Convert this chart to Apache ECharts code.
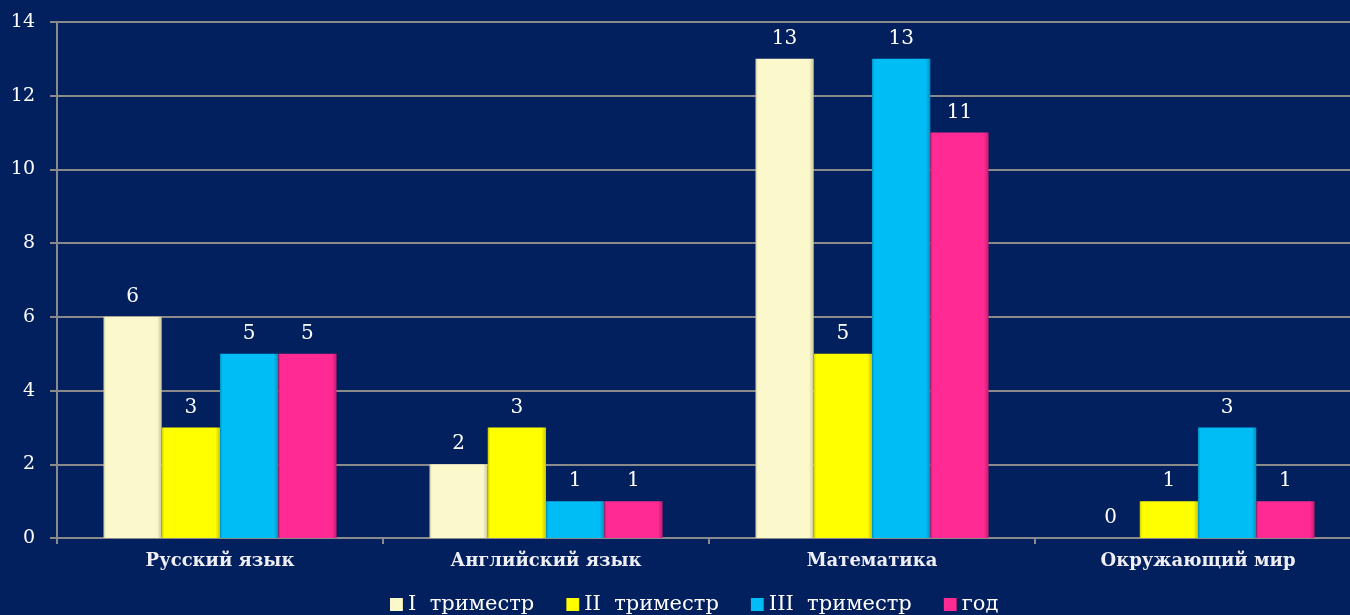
<!DOCTYPE html>
<html><head><meta charset="utf-8">
<script src="https://cdn.jsdelivr.net/npm/echarts@6/dist/echarts.min.js"></script>
<style>html,body{margin:0;padding:0;background:#03205e;overflow:hidden;}#c{width:1361px;height:615px;}</style>
</head><body><div id="c"></div>
<script>
const categories = ['Русский язык', 'Английский язык', 'Математика', 'Окружающий мир'];
const seriesNames = ['I  триместр', 'II  триместр', 'III  триместр', 'год'];
const trim1 = [6, 2, 13, 0];
const trim2 = [3, 3, 5, 1];
const trim3 = [5, 1, 13, 3];
const year = [5, 1, 11, 1];
const yTicks = [0, 2, 4, 6, 8, 10, 12, 14];

const colors = ['#fbf8cc', '#ffff00', '#00bdf5', '#ff2a93'];
const borders = ['#c9c59a', '#c8c800', '#0090bd', '#c41c6e'];
const data = [trim1, trim2, trim3, year];
const serif = '"DejaVu Serif", "Liberation Serif", serif';

const chart = echarts.init(document.getElementById('c'));
chart.setOption({
  backgroundColor: '#03205e',
  animation: false,
  grid: { left: 57, right: 0, top: 22, bottom: 77 },
  legend: {
    top: 589, left: 385,
    itemWidth: 13, itemHeight: 13, itemGap: 32,
    icon: 'rect',
    textStyle: { color: '#ffffff', fontFamily: serif, fontSize: 21 },
    data: seriesNames
  },
  xAxis: {
    type: 'category', data: categories,
    axisLine: { lineStyle: { color: '#8a8a8a', width: 2 } },
    axisTick: { show: true, length: 6, lineStyle: { color: '#8a8a8a', width: 2 } },
    axisLabel: { color: '#eeeef4', fontFamily: serif, fontSize: 18, fontWeight: 'bold', margin: 14 }
  },
  yAxis: {
    type: 'value', min: 0, max: 14, interval: 2,
    axisLine: { show: true, lineStyle: { color: '#8a8a8a', width: 2 } },
    axisTick: { show: true, length: 7, lineStyle: { color: '#8a8a8a', width: 2 } },
    splitLine: { lineStyle: { color: '#8a8a8a', width: 2 } },
    axisLabel: { color: '#ffffff', fontFamily: serif, fontSize: 19, margin: 22,
      formatter: v => yTicks.includes(v) ? String(v) : '' }
  },
  series: data.map((d, i) => ({
    name: seriesNames[i], type: 'bar', data: d,
    barGap: '0%', barCategoryGap: '28.5%',
    itemStyle: {
      color: new echarts.graphic.LinearGradient(0, 0, 1, 0, [
        { offset: 0, color: borders[i] },
        { offset: 0.04, color: colors[i] },
        { offset: 0.92, color: colors[i] },
        { offset: 1, color: borders[i] }
      ]),
      borderWidth: 0
    },
    label: { show: true, position: 'top', distance: 10, color: '#ffffff',
      fontFamily: serif, fontSize: 20 }
  }))
});
</script></body></html>
